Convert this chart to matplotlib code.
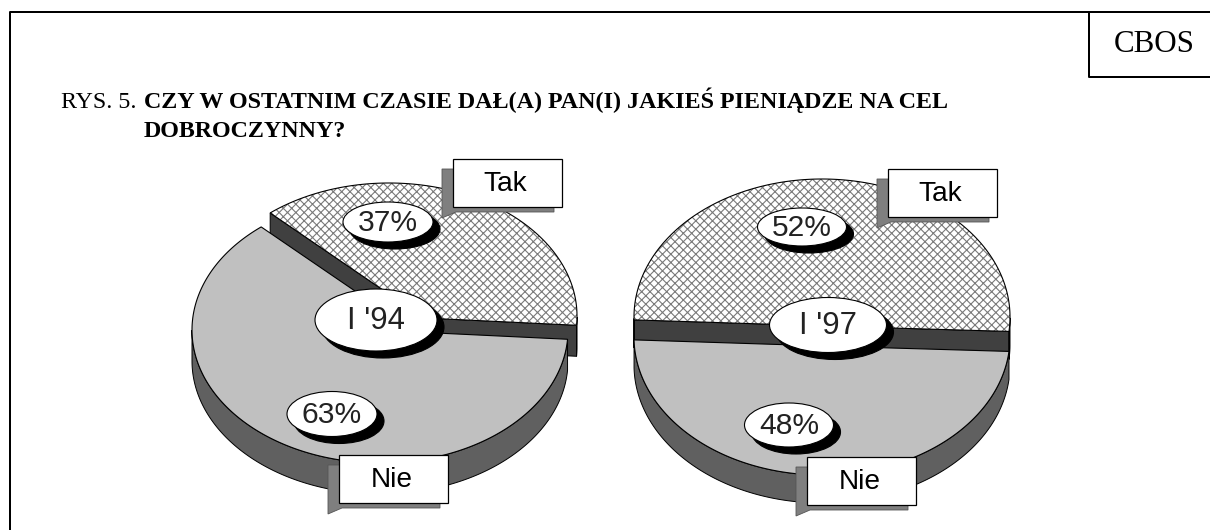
import numpy as np
import matplotlib
matplotlib.use('Agg')
import matplotlib.pyplot as plt
from matplotlib.patches import Polygon, Ellipse, Rectangle

# data
waves = ["I '94", "I '97"]
answers = ['Tak', 'Nie']
tak = [37, 52]
nie = [63, 48]

plt.rcParams['hatch.linewidth'] = 0.8
plt.rcParams['hatch.color'] = '#808080'

W, H = 1210, 530
fig = plt.figure(figsize=(W / 100, H / 100), dpi=100)
ax = fig.add_axes([0, 0, 1, 1])
ax.set_xlim(0, W)
ax.set_ylim(H, 0)
ax.axis('off')

PX = 72 / 100  # points per pixel

# layout of the two 3d pies (pixel units)
pies = [
    dict(cx=380, cy=330, a=188, b=133, vx=415, vy=332, T=31, start=-4, shift=(9, -14),
         lab=(376, 320, 122, 62), pct=[(388, 222, 90, 40), (332, 414, 90, 45)],
         box=[(453, 159), (339, 455)]),
    dict(cx=822, cy=337, a=188, b=138, vx=857, vy=347, T=28, start=-6, shift=(0, -20),
         lab=(828, 325, 117, 55), pct=[(802, 227, 89, 38), (789, 425, 89, 44)],
         box=[(888, 169), (807, 457)]),
]

top_col = {'Tak': 'white', 'Nie': '#c0c0c0'}
face_col = '#404040'
rim_col = '#606060'


def rim(p, ts, dx=0, dy=0, down=0):
    r = np.radians(ts)
    return np.column_stack([p['cx'] + p['a'] * np.cos(r) + dx,
                            p['cy'] - p['b'] * np.sin(r) + dy + down])


def draw_wedge(p, t1, t2, dx, dy, hatch):
    T = p['T']
    v = np.array([p['vx'] + dx, p['vy'] + dy])
    # radial faces that look toward the viewer
    for t, nrm in [(t1, t1 - 90), (t2, t2 + 90)]:
        if np.sin(np.radians(nrm)) < 0:
            r = rim(p, [t], dx, dy)[0]
            quad = [v, r, r + [0, T], v + [0, T]]
            ax.add_patch(Polygon(quad, closed=True, fc=face_col, ec='black', lw=0.7))
    # outer side band on the front half
    ts = np.linspace(t1, t2, 300)
    front = np.sin(np.radians(ts)) <= 0
    idx = np.where(front)[0]
    if len(idx) > 1:
        groups = np.split(idx, np.where(np.diff(idx) > 1)[0] + 1)
        for g in groups:
            if len(g) < 2:
                continue
            up = rim(p, ts[g], dx, dy)
            lo = rim(p, ts[g], dx, dy, down=T)
            ax.add_patch(Polygon(np.vstack([up, lo[::-1]]), closed=True,
                                 fc=face_col if hatch else rim_col, ec='black', lw=0.7))
    # top surface
    pts = np.vstack([v, rim(p, np.linspace(t1, t2, 300), dx, dy)])
    if hatch:
        ax.add_patch(Polygon(pts, closed=True, fc='white', ec='#7a7a7a', lw=0,
                             hatch='xxxx'))
        ax.add_patch(Polygon(pts, closed=True, fill=False, ec='black', lw=0.8))
    else:
        ax.add_patch(Polygon(pts, closed=True, fc=top_col['Nie'], ec='black', lw=0.8))


def bubble(x, y, w, h, txt, size):
    ax.add_patch(Ellipse((x + 7, y + 7), w, h, fc='black', ec='black', lw=0.8))
    ax.add_patch(Ellipse((x, y), w, h, fc='white', ec='black', lw=0.8))
    ax.text(x, y + 1, txt, ha='center', va='center', fontsize=size,
            family='Liberation Sans', color='#222222')


def tag(x0, y0, txt, w=109, h=48):
    x1, y1 = x0 + w, y0 + h
    shadow = [(x0 - 11, y0 + 10), (x1 - 8, y0 + 10), (x1 - 8, y1 + 5),
              (x0 + 3, y1 + 5), (x0 - 11, y1 + 11)]
    ax.add_patch(Polygon(shadow, closed=True, fc='#7f7f7f', ec='#555555', lw=0.6))
    ax.add_patch(Rectangle((x0, y0), w, h, fc='white', ec='black', lw=0.9))
    ax.text(x0 + w / 2 - 2, y0 + h / 2 + 1, txt, ha='center', va='center',
            fontsize=28 * PX, family='Liberation Sans', color='black')


for i, p in enumerate(pies):
    span_tak = tak[i] / 100 * 360
    span_nie = nie[i] / 100 * 360
    t0 = p['start']
    # back slice (Tak) is pulled out, front slice (Nie) stays
    draw_wedge(p, t0, t0 + span_tak, p['shift'][0], p['shift'][1], True)
    draw_wedge(p, t0 + span_tak, t0 + span_tak + span_nie, 0, 0, False)

    x, y, w, h = p['lab']
    bubble(x, y, w, h, waves[i], 31 * PX)
    for (x, y, w, h), val in zip(p['pct'], [tak[i], nie[i]]):
        bubble(x, y, w, h, f'{val}%', 30 * PX)
    for (bx, by), name in zip(p['box'], answers):
        tag(bx, by, name)

# frame and CBOS box
ax.plot([10, 10, W], [H, 12, 12], color='black', lw=2 * PX, solid_capstyle='butt')
ax.plot([1089, 1089, W], [12, 77, 77], color='black', lw=2 * PX, solid_capstyle='butt')
ax.text(1154, 44, 'CBOS', ha='center', va='center', fontsize=31 * PX,
        family='Liberation Serif')

# title
ax.text(61, 108, 'RYS. 5.', ha='left', va='baseline', fontsize=24 * PX,
        family='Liberation Serif')
ax.text(144, 108, 'CZY W OSTATNIM CZASIE DAŁ(A) PAN(I) JAKIEŚ PIENIĄDZE NA CEL',
        ha='left', va='baseline', fontsize=24 * PX, family='Liberation Serif',
        weight='bold')
ax.text(144, 137, 'DOBROCZYNNY?', ha='left', va='baseline', fontsize=24 * PX,
        family='Liberation Serif', weight='bold')

fig.savefig('out.png', dpi=100)
